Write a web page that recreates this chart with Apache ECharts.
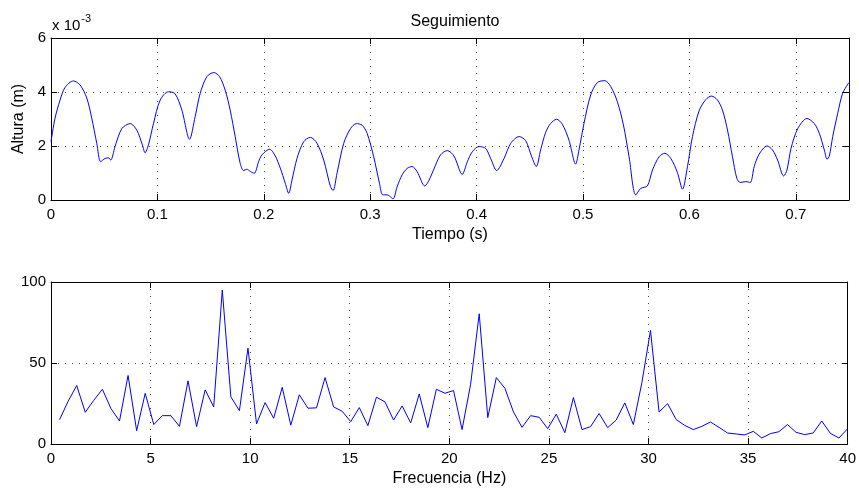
<!DOCTYPE html>
<html>
<head>
<meta charset="utf-8">
<script src="https://cdn.jsdelivr.net/npm/echarts@6/dist/echarts.min.js"></script>
<style>
html,body{margin:0;padding:0;background:#fff;}
#chart{width:859px;height:488px;}
</style>
</head>
<body>
<div id="chart"></div>
<script>
// ---- Top subplot: tracking (altura in units of 1e-3 m) ----
var timeS = [0.0000,0.0038,0.0085,0.0132,0.0210,0.0273,0.0336,0.0383,0.0430,0.0467,0.0508,0.0540,0.0561,0.0602,0.0665,0.0743,0.0806,0.0859,0.0884,0.0916,0.0963,0.1026,0.1104,0.1167,0.1230,0.1302,0.1355,0.1402,0.1465,0.1530,0.1584,0.1637,0.1684,0.1731,0.1778,0.1810,0.1841,0.1872,0.1910,0.1951,0.1982,0.2055,0.2108,0.2155,0.2202,0.2234,0.2265,0.2312,0.2375,0.2438,0.2500,0.2563,0.2626,0.2651,0.2688,0.2751,0.2814,0.2870,0.2924,0.2971,0.3033,0.3087,0.3118,0.3159,0.3190,0.3215,0.3253,0.3300,0.3347,0.3394,0.3441,0.3513,0.3551,0.3598,0.3661,0.3724,0.3787,0.3865,0.3913,0.3960,0.4022,0.4085,0.4132,0.4189,0.4258,0.4321,0.4400,0.4461,0.4518,0.4561,0.4602,0.4649,0.4695,0.4752,0.4805,0.4868,0.4931,0.4962,0.5009,0.5072,0.5135,0.5205,0.5261,0.5323,0.5380,0.5433,0.5496,0.5543,0.5605,0.5653,0.5715,0.5769,0.5825,0.5888,0.5935,0.5982,0.6029,0.6091,0.6154,0.6207,0.6264,0.6311,0.6358,0.6405,0.6446,0.6478,0.6531,0.6572,0.6609,0.6656,0.6729,0.6782,0.6829,0.6886,0.6917,0.6955,0.7018,0.7105,0.7174,0.7221,0.7268,0.7294,0.7315,0.7347,0.7394,0.7440,0.7500];
var altura = [2.16,3.03,3.70,4.17,4.41,4.26,3.78,3.03,2.10,1.42,1.54,1.56,1.48,1.98,2.64,2.83,2.59,2.04,1.75,2.04,2.83,3.70,4.01,3.93,3.33,2.25,3.09,3.95,4.57,4.72,4.57,4.07,3.33,2.35,1.36,1.09,1.14,1.06,0.99,1.42,1.67,1.88,1.63,1.18,0.62,0.25,0.74,1.54,2.16,2.32,2.10,1.48,0.50,0.35,0.99,2.10,2.64,2.83,2.77,2.47,1.60,0.62,0.19,0.19,0.12,0.04,0.49,0.93,1.17,1.24,1.05,0.52,0.72,1.14,1.67,1.83,1.63,0.95,1.42,1.79,1.98,1.91,1.54,1.09,1.54,2.10,2.35,2.20,1.60,1.24,1.86,2.50,2.83,2.99,2.81,2.22,1.33,1.85,2.83,3.89,4.35,4.42,4.20,3.64,2.78,1.60,0.19,0.43,0.52,1.11,1.60,1.73,1.54,1.01,0.40,1.24,2.35,3.30,3.72,3.85,3.70,3.33,2.59,1.60,0.80,0.65,0.68,0.65,1.24,1.70,2.00,1.85,1.48,0.89,1.11,1.91,2.64,3.02,2.83,2.47,1.85,1.51,1.63,2.35,3.21,3.95,4.35];

// ---- Bottom subplot: spectrum ----
var freqHz = [0.43,0.86,1.29,1.72,2.15,2.58,3.01,3.44,3.87,4.30,4.73,5.16,5.59,6.02,6.45,6.88,7.31,7.74,8.17,8.60,9.03,9.46,9.89,10.32,10.75,11.18,11.61,12.04,12.47,12.90,13.33,13.76,14.19,14.62,15.05,15.48,15.91,16.34,16.77,17.20,17.63,18.06,18.49,18.92,19.35,19.78,20.21,20.64,21.07,21.50,21.93,22.36,22.79,23.22,23.65,24.08,24.51,24.94,25.37,25.80,26.23,26.66,27.09,27.52,27.95,28.38,28.81,29.24,29.67,30.10,30.53,30.96,31.39,31.82,32.25,32.68,33.11,33.54,33.97,34.40,34.83,35.26,35.69,36.12,36.55,36.98,37.41,37.84,38.27,38.70,39.13,39.56,39.99];
var amplitud = [15.0,26.4,36.1,19.6,27.0,33.8,21.9,14.2,42.3,8.2,31.3,12.0,17.5,17.5,10.9,39.0,10.7,33.4,22.9,95.0,29.1,20.6,59.2,12.4,25.6,15.9,35.0,11.6,30.4,22.1,22.3,41.0,22.9,20.2,13.8,22.5,11.3,28.9,26.0,14.8,23.5,13.0,30.9,10.1,33.8,31.3,33.0,8.9,36.9,80.4,16.3,41.0,34.4,19.8,10.3,17.5,16.5,9.5,18.4,7.0,28.7,8.9,10.7,18.8,10.1,14.8,25.4,12.0,38.0,70.1,19.8,24.9,15.1,11.5,8.9,10.9,13.6,10.3,6.8,6.2,5.6,7.8,3.7,6.4,7.6,12.0,7.2,5.8,6.8,14.2,6.6,3.7,9.3];

var titleText = 'Seguimiento';
var xName1 = 'Tiempo (s)';
var yName1 = 'Altura (m)';
var xName2 = 'Frecuencia (Hz)';

var FONT = '"Liberation Sans", Arial, Helvetica, sans-serif';
var gridDots = {show:true, lineStyle:{color:'#444', width:1, type:[1,6]}};
var lineBlack = {show:true, onZero:false, lineStyle:{color:'#000', width:1}};
var tickIn = {show:true, inside:true, length:6, lineStyle:{color:'#000', width:1}};
var lbl = {color:'#000', fontSize:15, fontFamily:FONT};

function pairs(xs, ys){ return xs.map(function(x,i){ return [x, ys[i]]; }); }

function mainX(g, min, max, iv, name, showMax){
  return {type:'value', gridIndex:g, min:min, max:max, interval:iv, position:'bottom',
    axisLine:lineBlack, axisTick:tickIn, splitLine:gridDots,
    axisLabel:Object.assign({margin:7, showMaxLabel:showMax, showMinLabel:true}, lbl),
    name:name, nameLocation:'middle', nameGap:27,
    nameTextStyle:{color:'#000', fontSize:16, fontFamily:FONT}};
}
function boxX(g, min, max, iv){
  return {type:'value', gridIndex:g, min:min, max:max, interval:iv, position:'top',
    axisLine:lineBlack, axisTick:tickIn, splitLine:{show:false}, axisLabel:{show:false}};
}
function mainY(g, min, max, iv, name){
  return {type:'value', gridIndex:g, min:min, max:max, interval:iv, position:'left',
    axisLine:lineBlack, axisTick:tickIn, splitLine:gridDots,
    axisLabel:Object.assign({margin:5}, lbl),
    name:name, nameLocation:'middle', nameGap:22,
    nameTextStyle:{color:'#000', fontSize:16, fontFamily:FONT}};
}
function boxY(g, min, max, iv){
  return {type:'value', gridIndex:g, min:min, max:max, interval:iv, position:'right',
    axisLine:lineBlack, axisTick:tickIn, splitLine:{show:false}, axisLabel:{show:false}};
}

var chart = echarts.init(document.getElementById('chart'), null, {renderer:'canvas'});
chart.setOption({
  backgroundColor:'#fff',
  animation:false,
  title:{text:titleText, left:450, top:9, textAlign:'center',
    textStyle:{color:'#000', fontSize:16, fontWeight:'normal', fontFamily:FONT}},
  graphic:[{type:'text', left:52, top:13,
    style:{text:'{a|x 10}{b|-3}', fill:'#000',
      rich:{a:{fontSize:15, fontFamily:FONT, fill:'#000', verticalAlign:'bottom', lineHeight:20},
            b:{fontSize:11, fontFamily:FONT, fill:'#000', verticalAlign:'top', lineHeight:20, padding:[0,0,0,1]}}}}],
  grid:[
    {left:51, top:38, width:798, height:162},
    {left:51, top:282, width:798, height:162}
  ],
  xAxis:[
    mainX(0, 0, 0.75, 0.1, xName1, false),
    boxX(0, 0, 0.75, 0.1),
    mainX(1, 0, 40, 5, xName2, true),
    boxX(1, 0, 40, 5)
  ],
  yAxis:[
    mainY(0, 0, 6, 2, yName1),
    boxY(0, 0, 6, 2),
    mainY(1, 0, 100, 50, ''),
    boxY(1, 0, 100, 50)
  ],
  series:[
    {type:'line', xAxisIndex:0, yAxisIndex:0, data:pairs(timeS, altura), showSymbol:false,
     lineStyle:{color:'#0000ff', width:1}, smooth:0.3, silent:true},
    {type:'line', xAxisIndex:2, yAxisIndex:2, data:pairs(freqHz, amplitud), showSymbol:false,
     lineStyle:{color:'#0000ff', width:1}, smooth:false, silent:true}
  ]
});
</script>
</body>
</html>
